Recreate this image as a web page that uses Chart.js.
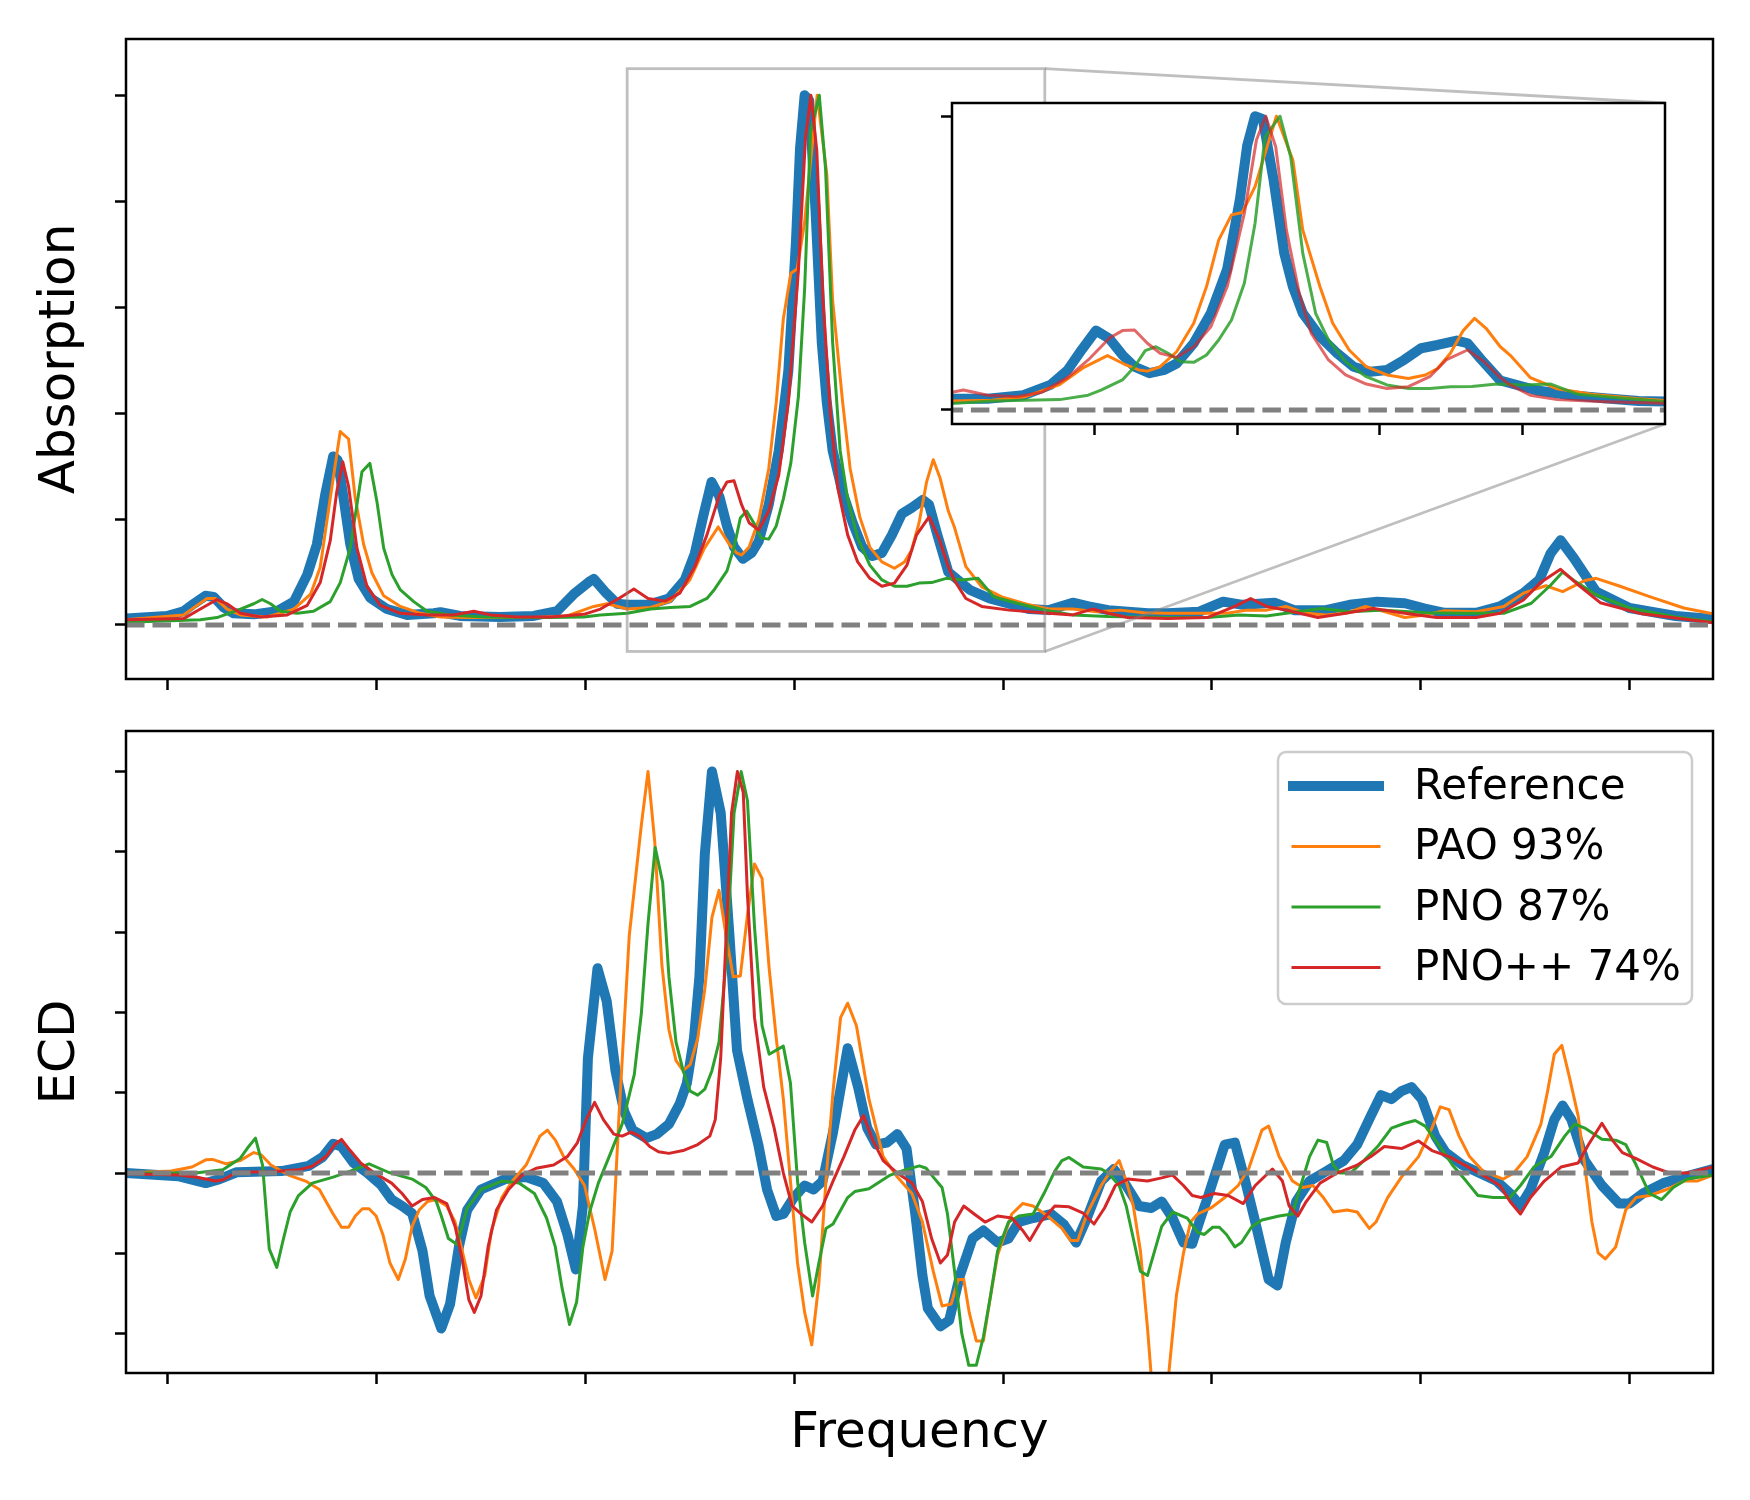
<!DOCTYPE html>
<html>
<head>
<meta charset="utf-8">
<script src="https://cdn.jsdelivr.net/npm/chart.js@4.4.0/dist/chart.umd.min.js"></script>
<style>
  body { margin: 0; background: #fff; }
  #wrap { position: relative; width: 1750px; height: 1500px; }
  canvas { position: absolute; }
</style>
</head>
<body>
<div id="wrap">
  <canvas id="absChart" width="1750" height="700" style="left:0;top:0;width:1750px;height:700px"></canvas>
  <canvas id="insetChart" width="800" height="400" style="left:900px;top:60px;width:800px;height:400px"></canvas>
  <canvas id="ecdChart" width="1750" height="800" style="left:0;top:700px;width:1750px;height:800px"></canvas>
</div>
<script>
// series names, in plotting order
const seriesNames = ['Reference', 'PAO 93%', 'PNO 87%', 'PNO++ 74%'];

// tick positions (labels are hidden in the figure)
const xTicks = [0, 5, 10, 15, 20, 25, 30, 35];
const absYTicks = [0, 0.2, 0.4, 0.6, 0.8, 1.0];
const ecdYTicks = [-0.4, -0.2, 0, 0.2, 0.4, 0.6, 0.8, 1.0];
const insetXTicks = [13, 15, 17, 19];
const insetYTicks = [0, 1];

// zoomed region shown in the inset
const zoomX = [11, 21];
const zoomY = [-0.05, 1.05];

// absorption spectra [frequency, intensity]
const absRef = [[-1,0.012],[-0.02,0.017],[0.38,0.026],[0.62,0.04],[0.9,0.055],[1.1,0.053],[1.34,0.033],[1.58,0.022],[2.06,0.02],[2.62,0.026],[3.02,0.044],[3.34,0.095],[3.57,0.152],[3.77,0.246],[3.96,0.318],[4.07,0.311],[4.21,0.239],[4.37,0.152],[4.57,0.087],[4.85,0.051],[5.25,0.03],[5.73,0.019],[6.37,0.022],[6.53,0.024],[7.0,0.017],[7.96,0.015],[8.76,0.017],[9.32,0.026],[9.72,0.058],[10.08,0.081],[10.2,0.087],[10.5,0.06],[10.76,0.04],[11.0,0.038],[11.5,0.038],[12.0,0.05],[12.38,0.085],[12.62,0.135],[12.82,0.205],[13.02,0.27],[13.21,0.242],[13.39,0.187],[13.56,0.147],[13.77,0.125],[13.98,0.136],[14.15,0.158],[14.39,0.227],[14.63,0.329],[14.86,0.48],[15.04,0.72],[15.14,0.9],[15.25,1.0],[15.36,0.99],[15.51,0.783],[15.66,0.533],[15.78,0.42],[15.92,0.329],[16.16,0.25],[16.4,0.193],[16.63,0.147],[16.87,0.13],[17.1,0.136],[17.34,0.17],[17.58,0.21],[17.81,0.221],[18.08,0.236],[18.23,0.227],[18.41,0.175],[18.69,0.1],[19.21,0.066],[19.68,0.05],[20.15,0.04],[20.63,0.03],[21.1,0.028],[21.67,0.042],[22.05,0.035],[22.52,0.028],[22.99,0.025],[23.47,0.022],[23.94,0.022],[24.7,0.025],[25.27,0.044],[25.74,0.038],[26.5,0.042],[26.97,0.028],[27.73,0.028],[28.3,0.038],[28.96,0.044],[29.62,0.041],[30.1,0.031],[30.57,0.023],[31.33,0.023],[31.9,0.035],[32.46,0.06],[32.84,0.085],[33.11,0.135],[33.35,0.16],[33.67,0.126],[34.2,0.063],[35.0,0.032],[36.1,0.017],[37.0,0.011]];
const absPao = [[-1,0.01],[0.38,0.019],[0.7,0.037],[0.94,0.05],[1.14,0.05],[1.42,0.03],[1.74,0.019],[2.38,0.015],[3.02,0.03],[3.42,0.058],[3.65,0.109],[3.89,0.239],[4.13,0.365],[4.33,0.351],[4.49,0.239],[4.69,0.152],[4.89,0.098],[5.17,0.055],[5.57,0.035],[6.05,0.022],[6.53,0.015],[7.17,0.014],[7.96,0.014],[8.76,0.014],[9.56,0.017],[10.2,0.035],[10.52,0.04],[11.0,0.03],[11.56,0.033],[12.03,0.045],[12.5,0.085],[12.85,0.145],[13.18,0.185],[13.44,0.153],[13.62,0.136],[13.74,0.132],[13.92,0.147],[14.15,0.198],[14.39,0.295],[14.57,0.42],[14.74,0.578],[14.92,0.664],[15.07,0.672],[15.25,0.76],[15.39,0.873],[15.55,1.0],[15.78,0.851],[15.92,0.612],[16.16,0.42],[16.34,0.295],[16.57,0.204],[16.81,0.147],[17.1,0.119],[17.4,0.107],[17.64,0.119],[17.81,0.141],[17.99,0.193],[18.17,0.27],[18.33,0.312],[18.49,0.278],[18.69,0.215],[18.83,0.186],[19.11,0.11],[19.49,0.072],[19.97,0.053],[20.63,0.038],[21.1,0.03],[21.67,0.03],[22.24,0.025],[22.81,0.028],[23.37,0.023],[23.94,0.022],[24.7,0.022],[25.36,0.022],[25.84,0.028],[26.31,0.028],[26.78,0.035],[27.26,0.022],[27.73,0.019],[28.2,0.022],[28.68,0.035],[29.15,0.025],[29.62,0.014],[30.1,0.019],[30.57,0.027],[31.33,0.025],[31.99,0.035],[32.46,0.06],[33.0,0.074],[33.4,0.063],[33.94,0.084],[34.2,0.088],[34.74,0.074],[35.5,0.053],[36.3,0.032],[37.0,0.021]];
const absPno = [[-1,0.005],[0.78,0.01],[1.18,0.014],[1.74,0.03],[2.06,0.04],[2.26,0.048],[2.46,0.04],[2.7,0.026],[3.1,0.022],[3.49,0.026],[3.89,0.044],[4.13,0.08],[4.37,0.145],[4.65,0.289],[4.84,0.305],[5.01,0.232],[5.17,0.145],[5.37,0.095],[5.57,0.066],[5.89,0.044],[6.21,0.026],[6.77,0.019],[7.56,0.015],[8.36,0.014],[9.16,0.014],[9.96,0.015],[10.36,0.019],[11.0,0.022],[11.56,0.03],[12.04,0.033],[12.51,0.035],[12.91,0.05],[13.09,0.067],[13.39,0.102],[13.56,0.147],[13.71,0.202],[13.86,0.215],[14.03,0.193],[14.21,0.164],[14.39,0.162],[14.57,0.187],[14.74,0.238],[14.92,0.306],[15.1,0.431],[15.25,0.635],[15.39,0.93],[15.6,1.0],[15.75,0.862],[15.92,0.533],[16.1,0.329],[16.28,0.238],[16.52,0.164],[16.81,0.113],[17.1,0.085],[17.4,0.073],[17.7,0.073],[17.99,0.079],[18.29,0.08],[18.64,0.088],[19.02,0.085],[19.4,0.088],[19.78,0.053],[20.34,0.041],[21.01,0.028],[21.67,0.019],[22.52,0.016],[23.94,0.014],[24.89,0.014],[25.65,0.019],[26.31,0.017],[26.78,0.022],[27.63,0.031],[28.3,0.025],[29.15,0.028],[30.1,0.023],[31.04,0.022],[31.99,0.022],[32.65,0.041],[33.11,0.075],[33.4,0.1],[33.67,0.084],[34.2,0.057],[35.0,0.032],[36.1,0.015],[37.0,0.006]];
const absPnoPP = [[-1,0.01],[0.38,0.012],[0.78,0.03],[1.18,0.048],[1.42,0.04],[1.74,0.022],[2.22,0.015],[2.86,0.019],[3.34,0.037],[3.65,0.08],[3.89,0.159],[4.05,0.253],[4.19,0.308],[4.33,0.261],[4.53,0.145],[4.77,0.073],[5.09,0.037],[5.57,0.022],[6.21,0.019],[6.85,0.019],[7.33,0.026],[7.73,0.019],[8.36,0.015],[9.16,0.015],[9.96,0.02],[10.36,0.03],[10.8,0.05],[11.16,0.068],[11.5,0.05],[11.91,0.045],[12.26,0.06],[12.62,0.11],[12.91,0.17],[13.21,0.245],[13.39,0.27],[13.56,0.272],[13.74,0.227],[13.92,0.193],[14.15,0.179],[14.39,0.215],[14.63,0.283],[14.86,0.42],[15.1,0.669],[15.27,0.919],[15.4,1.0],[15.54,0.896],[15.69,0.612],[15.87,0.397],[16.04,0.26],[16.28,0.17],[16.52,0.119],[16.81,0.088],[17.1,0.073],[17.4,0.079],[17.7,0.113],[17.93,0.17],[18.23,0.204],[18.46,0.165],[18.69,0.11],[18.83,0.085],[19.11,0.05],[19.49,0.035],[20.15,0.028],[21.1,0.022],[21.67,0.019],[22.14,0.03],[22.52,0.022],[22.99,0.014],[23.94,0.012],[24.89,0.014],[25.55,0.035],[25.93,0.05],[26.31,0.035],[26.78,0.028],[27.54,0.014],[28.2,0.022],[28.87,0.031],[29.62,0.022],[30.38,0.014],[31.33,0.014],[31.9,0.022],[32.46,0.047],[32.87,0.08],[33.35,0.105],[33.8,0.074],[34.3,0.042],[35.3,0.021],[37.0,0.004]];

// ECD spectra [frequency, intensity]
const ecdRef = [[-1,0],[0.25,-0.008],[0.91,-0.025],[1.24,-0.015],[1.65,0.002],[2.72,0.005],[3.38,0.018],[3.71,0.04],[3.96,0.073],[4.16,0.066],[4.45,0.025],[4.78,0],[5.11,-0.03],[5.36,-0.066],[5.61,-0.082],[5.85,-0.1],[6.1,-0.194],[6.27,-0.306],[6.55,-0.387],[6.76,-0.326],[6.97,-0.184],[7.17,-0.092],[7.5,-0.041],[8.08,-0.015],[8.58,-0.01],[8.99,-0.025],[9.32,-0.071],[9.57,-0.153],[9.77,-0.24],[9.94,-0.082],[10.06,0.286],[10.29,0.51],[10.51,0.428],[10.72,0.255],[10.93,0.153],[11.13,0.107],[11.46,0.087],[11.71,0.097],[12.0,0.122],[12.26,0.173],[12.43,0.224],[12.6,0.336],[12.73,0.489],[12.86,0.795],[13.03,1.0],[13.24,0.897],[13.45,0.591],[13.63,0.306],[13.88,0.184],[14.14,0.071],[14.35,-0.041],[14.57,-0.107],[14.74,-0.102],[14.99,-0.061],[15.25,-0.031],[15.46,-0.041],[15.68,-0.02],[15.93,0.102],[16.28,0.311],[16.53,0.214],[16.75,0.112],[16.96,0.071],[17.22,0.076],[17.47,0.097],[17.69,0.061],[17.9,-0.102],[18.07,-0.255],[18.2,-0.337],[18.5,-0.382],[18.71,-0.367],[18.97,-0.255],[19.27,-0.163],[19.53,-0.143],[19.87,-0.173],[20.13,-0.163],[20.38,-0.122],[20.72,-0.112],[21.15,-0.102],[21.45,-0.127],[21.75,-0.173],[22.01,-0.112],[22.35,-0.02],[22.65,0.01],[22.95,-0.031],[23.25,-0.082],[23.55,-0.087],[23.8,-0.071],[24.06,-0.112],[24.32,-0.173],[24.53,-0.176],[24.73,-0.112],[24.9,-0.061],[25.31,0.071],[25.55,0.076],[25.8,-0.02],[26.04,-0.122],[26.36,-0.265],[26.57,-0.28],[26.77,-0.173],[27.02,-0.071],[27.34,-0.02],[27.75,0.005],[28.16,0.031],[28.48,0.071],[28.81,0.143],[29.05,0.194],[29.3,0.184],[29.54,0.204],[29.78,0.214],[30.03,0.184],[30.35,0.092],[30.6,0.051],[31.0,0.02],[31.41,0],[31.82,-0.02],[32.14,-0.051],[32.39,-0.082],[32.63,-0.041],[32.96,0.051],[33.2,0.133],[33.4,0.168],[33.61,0.133],[33.93,0.031],[34.34,-0.031],[34.75,-0.076],[35.0,-0.076],[35.32,-0.051],[35.81,-0.025],[36.3,-0.01],[37.0,0.01]];
const ecdPao = [[-1,0],[0.08,0.005],[0.58,0.015],[0.91,0.033],[1.07,0.034],[1.4,0.023],[1.73,0.031],[2.06,0.051],[2.23,0.046],[2.47,0.02],[2.89,-0.005],[3.3,-0.02],[3.63,-0.041],[3.79,-0.071],[3.96,-0.102],[4.16,-0.135],[4.33,-0.135],[4.49,-0.107],[4.66,-0.089],[4.82,-0.089],[4.99,-0.107],[5.15,-0.153],[5.32,-0.224],[5.52,-0.265],[5.69,-0.214],[5.85,-0.133],[6.02,-0.092],[6.22,-0.071],[6.43,-0.066],[6.68,-0.082],[6.88,-0.122],[7.05,-0.194],[7.21,-0.265],[7.38,-0.311],[7.59,-0.255],[7.75,-0.143],[8.0,-0.061],[8.25,-0.02],[8.58,0.02],[8.91,0.092],[9.09,0.107],[9.28,0.082],[9.48,0.041],[9.73,0.01],[9.98,-0.031],[10.23,-0.143],[10.47,-0.265],[10.64,-0.194],[10.8,0.133],[11.05,0.591],[11.34,0.867],[11.5,1.0],[11.66,0.826],[11.83,0.52],[12.0,0.357],[12.17,0.28],[12.34,0.255],[12.51,0.27],[12.69,0.336],[12.86,0.459],[13.03,0.637],[13.2,0.704],[13.37,0.591],[13.54,0.489],[13.71,0.491],[13.88,0.642],[14.05,0.77],[14.23,0.734],[14.4,0.51],[14.57,0.336],[14.74,0.184],[14.91,-0.02],[15.08,-0.224],[15.25,-0.347],[15.42,-0.428],[15.59,-0.275],[15.76,-0.02],[15.93,0.204],[16.11,0.387],[16.28,0.423],[16.49,0.367],[16.79,0.184],[17.13,0.041],[17.47,-0.01],[17.82,-0.051],[18.07,-0.122],[18.33,-0.245],[18.54,-0.331],[18.76,-0.326],[18.93,-0.265],[19.06,-0.265],[19.19,-0.347],[19.36,-0.418],[19.53,-0.418],[19.7,-0.306],[19.87,-0.204],[20.21,-0.102],[20.47,-0.076],[20.72,-0.082],[21.07,-0.107],[21.41,-0.138],[21.62,-0.168],[21.79,-0.168],[22.01,-0.102],[22.35,-0.031],[22.61,0.01],[22.78,0.031],[22.95,-0.02],[23.12,-0.082],[23.29,-0.194],[23.46,-0.387],[23.62,-0.6],[23.8,-0.62],[23.97,-0.498],[24.15,-0.306],[24.32,-0.2],[24.49,-0.122],[24.66,-0.102],[24.98,-0.087],[25.31,-0.061],[25.63,-0.031],[25.88,0.01],[26.2,0.107],[26.36,0.117],[26.61,0.041],[26.93,-0.02],[27.18,-0.036],[27.42,-0.031],[27.67,-0.061],[27.91,-0.097],[28.24,-0.092],[28.48,-0.097],[28.77,-0.138],[28.93,-0.122],[29.21,-0.061],[29.54,-0.01],[29.95,0.041],[30.27,0.112],[30.47,0.165],[30.68,0.158],[30.92,0.092],[31.17,0.041],[31.49,0.005],[31.98,-0.015],[32.23,0],[32.55,0.041],[32.88,0.122],[33.04,0.204],[33.2,0.296],[33.38,0.318],[33.57,0.235],[33.77,0.143],[33.94,0.01],[34.1,-0.122],[34.25,-0.199],[34.42,-0.214],[34.67,-0.184],[34.91,-0.092],[35.16,-0.061],[35.48,-0.056],[35.89,-0.041],[36.3,-0.02],[36.62,-0.02],[37.0,-0.005]];
const ecdPno = [[-1,0],[0.66,0],[1.32,0.008],[1.73,0.036],[1.9,0.061],[2.1,0.087],[2.27,0.02],[2.43,-0.189],[2.61,-0.235],[2.76,-0.168],[2.93,-0.097],[3.13,-0.056],[3.46,-0.025],[3.96,-0.01],[4.37,0.005],[4.82,0.023],[5.28,0.002],[5.85,-0.015],[6.18,-0.036],[6.43,-0.071],[6.55,-0.107],[6.72,-0.163],[6.93,-0.178],[7.17,-0.087],[7.5,-0.041],[8.0,-0.02],[8.41,-0.025],[8.78,-0.051],[9.07,-0.112],[9.28,-0.184],[9.44,-0.286],[9.62,-0.377],[9.79,-0.321],[9.94,-0.184],[10.1,-0.097],[10.31,-0.025],[10.55,0.036],[10.88,0.122],[11.17,0.245],[11.34,0.398],[11.5,0.622],[11.67,0.811],[11.85,0.724],[12.0,0.489],[12.17,0.326],[12.34,0.255],[12.51,0.204],[12.69,0.194],[12.86,0.209],[13.03,0.255],[13.2,0.326],[13.37,0.53],[13.56,0.897],[13.73,1.0],[13.88,0.928],[14.05,0.612],[14.23,0.367],[14.4,0.296],[14.74,0.316],[14.91,0.224],[15.08,-0.02],[15.25,-0.173],[15.44,-0.306],[15.59,-0.224],[15.76,-0.138],[15.93,-0.127],[16.28,-0.061],[16.45,-0.046],[16.79,-0.039],[17.3,-0.005],[17.65,0.008],[18.0,0.018],[18.16,0.012],[18.33,-0.01],[18.54,-0.036],[18.67,-0.102],[18.84,-0.245],[19.01,-0.398],[19.18,-0.479],[19.36,-0.479],[19.53,-0.408],[19.7,-0.306],[19.87,-0.194],[20.13,-0.122],[20.38,-0.107],[20.72,-0.102],[20.98,-0.051],[21.24,0.005],[21.41,0.031],[21.58,0.039],[21.92,0.015],[22.35,0.01],[22.52,0],[22.78,-0.031],[22.95,-0.082],[23.12,-0.163],[23.29,-0.245],[23.46,-0.255],[23.63,-0.194],[23.8,-0.133],[24.06,-0.097],[24.41,-0.112],[24.66,-0.148],[24.82,-0.153],[25.02,-0.135],[25.18,-0.135],[25.35,-0.153],[25.55,-0.184],[25.71,-0.173],[25.96,-0.133],[26.2,-0.117],[26.61,-0.107],[26.93,-0.102],[27.1,-0.041],[27.34,0.041],[27.54,0.082],[27.75,0.076],[27.91,0.02],[28.07,0],[28.32,0],[28.64,0.031],[28.97,0.066],[29.3,0.112],[29.62,0.124],[29.87,0.131],[30.11,0.117],[30.43,0.071],[30.76,0.02],[31.09,-0.02],[31.37,-0.056],[31.74,-0.061],[32.14,-0.061],[32.39,-0.031],[32.71,0.015],[33.12,0.041],[33.45,0.092],[33.69,0.122],[33.93,0.112],[34.34,0.084],[34.67,0.082],[34.91,0.071],[35.16,0.02],[35.48,-0.051],[35.77,-0.066],[36.05,-0.036],[36.38,-0.015],[37.0,-0.005]];
const ecdPnoPP = [[-1,-0.002],[0.25,-0.005],[0.66,-0.01],[1.15,-0.02],[1.32,-0.017],[1.65,0.002],[2.47,0.003],[3.13,0.008],[3.46,0.017],[3.79,0.041],[4.0,0.071],[4.16,0.084],[4.37,0.056],[4.62,0.025],[4.95,0],[5.36,-0.025],[5.61,-0.051],[5.85,-0.082],[6.1,-0.066],[6.39,-0.061],[6.68,-0.076],[6.88,-0.133],[7.05,-0.214],[7.21,-0.316],[7.34,-0.347],[7.5,-0.306],[7.67,-0.184],[7.87,-0.092],[8.16,-0.041],[8.49,-0.005],[8.82,0.012],[9.24,0.02],[9.57,0.041],[9.81,0.076],[10.02,0.133],[10.22,0.176],[10.43,0.133],[10.68,0.097],[10.88,0.092],[11.09,0.102],[11.3,0.092],[11.54,0.066],[11.75,0.053],[12.0,0.049],[12.34,0.056],[12.69,0.071],[12.98,0.092],[13.11,0.133],[13.24,0.286],[13.37,0.591],[13.5,0.897],[13.64,1.0],[13.78,0.948],[13.88,0.693],[14.05,0.387],[14.27,0.214],[14.52,0.112],[14.74,0],[14.95,-0.082],[15.17,-0.102],[15.42,-0.122],[15.68,-0.082],[15.93,-0.02],[16.19,0.041],[16.45,0.107],[16.66,0.143],[16.88,0.082],[17.13,0.031],[17.47,0],[17.82,-0.025],[18.07,-0.071],[18.29,-0.163],[18.5,-0.224],[18.67,-0.204],[18.84,-0.122],[19.06,-0.082],[19.31,-0.102],[19.57,-0.122],[19.87,-0.107],[20.21,-0.112],[20.47,-0.143],[20.64,-0.168],[20.9,-0.122],[21.24,-0.082],[21.58,-0.084],[21.92,-0.1],[22.18,-0.127],[22.43,-0.087],[22.69,-0.031],[22.99,-0.015],[23.46,-0.02],[23.8,-0.012],[24.06,-0.005],[24.32,-0.031],[24.53,-0.056],[24.74,-0.061],[25.06,-0.051],[25.39,-0.056],[25.75,-0.076],[26.04,-0.031],[26.45,0.01],[26.69,-0.02],[26.85,-0.082],[27.06,-0.107],[27.26,-0.071],[27.59,-0.025],[28.0,0],[28.48,0.02],[28.81,0.041],[29.13,0.066],[29.54,0.061],[29.95,0.08],[30.27,0.056],[30.68,0.041],[31.09,0.018],[31.57,-0.01],[31.9,-0.031],[32.14,-0.071],[32.39,-0.102],[32.63,-0.061],[32.96,-0.02],[33.36,0.015],[33.77,0.025],[34.02,0.071],[34.34,0.124],[34.59,0.082],[34.83,0.051],[35.16,0.036],[35.56,0.015],[35.97,0],[36.38,0],[37.0,0.015]];

// styles
const colors = ['#1f77b4', '#ff7f0e', '#2ca02c', '#d62728'];
const insetColors = ['#1f77b4', '#ff7f0e', 'rgba(44,160,44,0.85)', 'rgba(214,39,40,0.7)'];
const widths = [10, 3, 3, 3];

Chart.defaults.font.family = '"DejaVu Sans", sans-serif';
Chart.defaults.color = '#000';

function makeSets(series, cols) {
    const sets = series.map((pts, i) => ({
        label: seriesNames[i],
        data: pts.map(p => ({x: p[0], y: p[1]})),
        borderColor: cols[i],
        borderWidth: widths[i],
        borderJoinStyle: 'round',
        order: 4 - i,
        pointRadius: 0,
        tension: 0,
        clip: 0
    }));
    // dashed zero line
    sets.push({
        label: '',
        data: [{x: -1, y: 0}, {x: 37, y: 0}],
        borderColor: '#808080',
        borderWidth: 5,
        borderDash: [18.5, 8],
        order: 0,
        pointRadius: 0,
        clip: 0
    });
    return sets;
}

function axis(min, max, ticks, fitSize, title) {
    return {
        type: 'linear', min: min, max: max, bounds: 'data',
        afterBuildTicks: s => { s.ticks = ticks.map(v => ({value: v})); },
        afterFit: s => { if (s.isHorizontal()) s.height = fitSize; else s.width = fitSize; },
        ticks: {display: false},
        grid: {drawOnChartArea: false, drawTicks: true, tickLength: 11, tickWidth: 2.5, tickColor: '#000'},
        border: {display: false},
        title: title || {display: false}
    };
}

// black frame round the plot area, optional white patch
const framePlugin = {
    id: 'frame',
    beforeDraw(chart, args, opts) {
        if (!opts.fill) return;
        const a = chart.chartArea, ctx = chart.ctx;
        ctx.save();
        ctx.fillStyle = '#fff';
        ctx.fillRect(a.left, a.top, a.right - a.left, a.bottom - a.top);
        ctx.restore();
    },
    afterDraw(chart) {
        const a = chart.chartArea, ctx = chart.ctx;
        ctx.save();
        ctx.strokeStyle = '#000';
        ctx.lineWidth = 2.5;
        ctx.strokeRect(a.left, a.top, a.right - a.left, a.bottom - a.top);
        ctx.restore();
    }
};

const baseOpts = {
    responsive: false,
    animation: false,
    events: []
};

// inset first, so the main chart can find its corners
const insetChart = new Chart(document.getElementById('insetChart'), {
    type: 'line',
    data: {datasets: makeSets([absRef, absPao, absPno, absPnoPP], insetColors)},
    options: Object.assign({}, baseOpts, {
        layout: {padding: {left: 0, top: 43, right: 35, bottom: 0}},
        scales: {
            x: axis(zoomX[0], zoomX[1], insetXTicks, 36),
            y: axis(-0.048, 1.045, insetYTicks, 52)
        },
        plugins: {legend: {display: false}, tooltip: {enabled: false}, frame: {fill: true}}
    }),
    plugins: [framePlugin]
});

const zoomPlugin = {
    id: 'zoomBox',
    afterDatasetsDraw(chart) {
        const ctx = chart.ctx, xs = chart.scales.x, ys = chart.scales.y;
        const x0 = xs.getPixelForValue(zoomX[0]), x1 = xs.getPixelForValue(zoomX[1]);
        const y0 = ys.getPixelForValue(zoomY[1]), y1 = ys.getPixelForValue(zoomY[0]);
        const ia = insetChart.chartArea;
        const dx = insetChart.canvas.offsetLeft - chart.canvas.offsetLeft;
        const dy = insetChart.canvas.offsetTop - chart.canvas.offsetTop;
        ctx.save();
        ctx.strokeStyle = 'rgba(128,128,128,0.5)';
        ctx.lineWidth = 2.8;
        ctx.strokeRect(x0, y0, x1 - x0, y1 - y0);
        ctx.beginPath();
        ctx.moveTo(x1, y0);
        ctx.lineTo(dx + ia.right, dy + ia.top);
        ctx.moveTo(x1, y1);
        ctx.lineTo(dx + ia.right, dy + ia.bottom);
        ctx.stroke();
        ctx.restore();
    }
};

new Chart(document.getElementById('absChart'), {
    type: 'line',
    data: {datasets: makeSets([absRef, absPao, absPno, absPnoPP], colors)},
    options: Object.assign({}, baseOpts, {
        layout: {padding: {left: 0, top: 39, right: 37, bottom: 0}},
        scales: {
            x: axis(-1, 37, xTicks, 21),
            y: axis(-0.102, 1.106, absYTicks, 126,
                {display: true, text: 'Absorption', font: {size: 50}, color: '#000', padding: {top: 31, bottom: 0}})
        },
        plugins: {legend: {display: false}, tooltip: {enabled: false}, frame: {}}
    }),
    plugins: [framePlugin, zoomPlugin]
});

// matplotlib-like framed legend in the upper right corner
const boxLegend = {
    id: 'boxLegend',
    afterDraw(chart) {
        const ctx = chart.ctx, a = chart.chartArea;
        const w = 414, h = 252;
        const x = a.right - 21 - w, y = a.top + 21;
        ctx.save();
        ctx.beginPath();
        ctx.roundRect(x, y, w, h, 8);
        ctx.fillStyle = 'rgba(255,255,255,0.8)';
        ctx.fill();
        ctx.strokeStyle = '#cccccc';
        ctx.lineWidth = 2.5;
        ctx.stroke();
        ctx.font = '42px "DejaVu Sans"';
        ctx.textBaseline = 'middle';
        ctx.textAlign = 'left';
        chart.data.datasets.filter(d => d.label).forEach((d, i) => {
            const cy = y + 34 + i * 60.5;
            ctx.beginPath();
            ctx.moveTo(x + 15, cy);
            ctx.lineTo(x + 101, cy);
            ctx.strokeStyle = d.borderColor;
            ctx.lineWidth = d.borderWidth;
            ctx.lineCap = 'square';
            ctx.stroke();
            ctx.fillStyle = '#000';
            ctx.fillText(d.label, x + 136, cy + 2);
        });
        ctx.restore();
    }
};

new Chart(document.getElementById('ecdChart'), {
    type: 'line',
    data: {datasets: makeSets([ecdRef, ecdPao, ecdPno, ecdPnoPP], colors)},
    options: Object.assign({}, baseOpts, {
        layout: {padding: {left: 0, top: 31, right: 37, bottom: 0}},
        scales: {
            x: axis(-1, 37, xTicks, 127,
                {display: true, text: 'Frequency', font: {size: 50}, color: '#000', padding: {top: 0, bottom: 36}}),
            y: axis(-0.498, 1.101, ecdYTicks, 126,
                {display: true, text: 'ECD', font: {size: 50}, color: '#000', padding: {top: 31, bottom: 0}})
        },
        plugins: {legend: {display: false}, tooltip: {enabled: false}, frame: {}}
    }),
    plugins: [framePlugin, boxLegend]
});
</script>
</body>
</html>
